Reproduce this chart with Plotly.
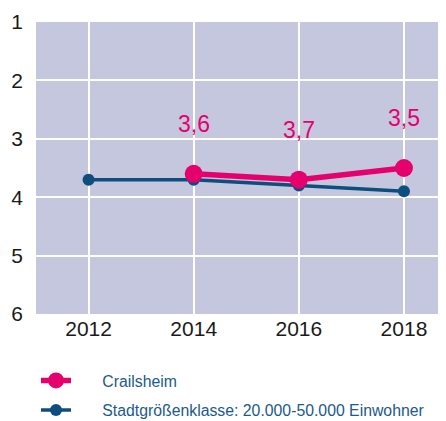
import plotly.graph_objects as go

years = [2012, 2014, 2016, 2018]
crailsheim_years = [2014, 2016, 2018]
crailsheim = [3.6, 3.7, 3.5]
klasse = [3.7, 3.7, 3.8, 3.9]
crailsheim_labels = ["3,6", "3,7", "3,5"]
y_ticks = [1, 2, 3, 4, 5, 6]

pink = "#e5006e"
blue = "#0e4d7d"
pad = "\u00a0" * 6

fig = go.Figure()
fig.add_trace(go.Scatter(
    x=years, y=klasse, mode="lines+markers",
    name=pad + "Stadtgrößenklasse: 20.000-50.000 Einwohner",
    line=dict(color=blue, width=3.5), marker=dict(size=12, color=blue),
    legendrank=2, legendgroup="b",
))
fig.add_trace(go.Scatter(
    x=crailsheim_years, y=crailsheim, mode="lines+markers",
    name=pad + "Crailsheim",
    line=dict(color=pink, width=5.5), marker=dict(size=18, color=pink),
    legendrank=1, legendgroup="a",
))
for xv, yv, t in zip(crailsheim_years, crailsheim, crailsheim_labels):
    fig.add_annotation(x=xv, y=yv, text=t, showarrow=False, yshift=50,
                       font=dict(color=pink, size=23, family="Liberation Sans, Arial"))

fig.update_layout(
    width=448, height=413,
    margin=dict(l=28, r=0, t=14, b=107, autoexpand=False),
    plot_bgcolor="#c4c7dd", paper_bgcolor="white",
    font=dict(family="Liberation Sans, Arial", color="#1a1a1a"),
    showlegend=True,
    legend=dict(x=0.0, y=-0.17, xanchor="left", yanchor="top",
                font=dict(size=15.8, color="#1b5a8c"), itemwidth=30,
                tracegroupgap=6, bgcolor="rgba(0,0,0,0)"),
)
fig.update_xaxes(range=[2011, 2018.99], tickvals=years, ticktext=[str(y) for y in years],
                 showgrid=True, gridcolor="white", gridwidth=1.5, zeroline=False,
                 tickfont=dict(size=21, color="#1a1a1a"), ticks="", showline=False,
                 automargin=False)
fig.update_yaxes(range=[6, 1], tickvals=y_ticks, ticktext=[str(v) for v in y_ticks],
                 showgrid=True, gridcolor="white", gridwidth=1.5, zeroline=False,
                 tickfont=dict(size=21, color="#1a1a1a"), ticks="", showline=False,
                 ticklabelstandoff=12, automargin=False)
fig.write_html("out.html")
